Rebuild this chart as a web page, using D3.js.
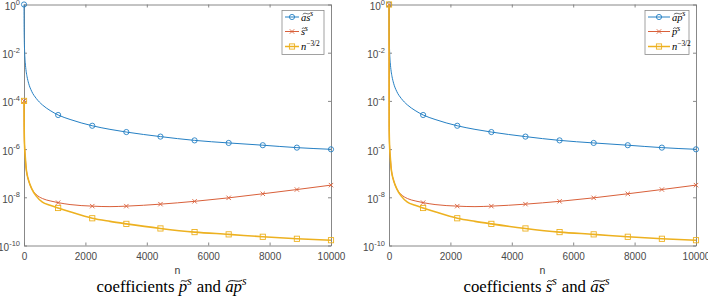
<!DOCTYPE html>
<html>
<head>
<meta charset="utf-8">
<script src="https://cdn.jsdelivr.net/npm/d3@7"></script>
<style>
body { margin: 0; background: #fff; }
svg { display: block; }
.tick text { font-family: "Liberation Sans", Arial, sans-serif; fill: #4a4a4a; }
</style>
</head>
<body>
<svg id="chart" width="708" height="297"></svg>
<script>
// sample points along n (markers sit on 1, 1112, 2223, ... 10000)
var nVals = [1, 5, 10, 20, 40, 70, 100, 150, 250, 400, 600, 850, 1112, 1500, 2223, 2800, 3334, 4445, 5556, 6667, 7778, 8889, 10000];
var markerN = [1, 1112, 2223, 3334, 4445, 5556, 6667, 7778, 8889, 10000];
var xTicks = [0, 2000, 4000, 6000, 8000, 10000];
var yTicks = [1, 1e-2, 1e-4, 1e-6, 1e-8, 1e-10];

// left panel
var asTilde = [1, 8.9e-2, 3.2e-2, 1.12e-2, 4e-3, 1.7e-3, 1e-3, 5.4e-4, 2.5e-4, 1.26e-4, 6.8e-5, 4e-5, 2.6e-5, 1.7e-5, 9.3e-6, 6.6e-6, 5.1e-6, 3.3e-6, 2.3e-6, 1.8e-6, 1.45e-6, 1.15e-6, 9.8e-7];
var sTilde = [1e-4, 1e-5, 3.2e-6, 1.26e-6, 5e-7, 1.6e-7, 8.9e-8, 5e-8, 2.3e-8, 1.3e-8, 8.9e-9, 7.1e-9, 6e-9, 5e-9, 4.3e-9, 4.1e-9, 4.3e-9, 5.2e-9, 6.8e-9, 9.5e-9, 1.4e-8, 2.1e-8, 3.2e-8];
var nPowLeft = [1e-4, 1e-5, 3.2e-6, 1.26e-6, 5e-7, 1.6e-7, 8.9e-8, 5e-8, 2.3e-8, 1.12e-8, 6.3e-9, 4.7e-9, 3.6e-9, 2.5e-9, 1.35e-9, 1e-9, 7.9e-10, 5.1e-10, 3.6e-10, 2.9e-10, 2.3e-10, 1.9e-10, 1.66e-10];

// right panel
var apTilde = [1, 8.9e-2, 3.2e-2, 1.12e-2, 4e-3, 1.7e-3, 1e-3, 5.4e-4, 2.5e-4, 1.26e-4, 6.8e-5, 4e-5, 2.6e-5, 1.7e-5, 9.3e-6, 6.6e-6, 5.1e-6, 3.3e-6, 2.3e-6, 1.8e-6, 1.45e-6, 1.15e-6, 9.8e-7];
var pTilde = [1, 1e-5, 3.2e-6, 1.26e-6, 5e-7, 1.6e-7, 8.9e-8, 5e-8, 2.3e-8, 1.3e-8, 8.9e-9, 7.1e-9, 6e-9, 5e-9, 4.3e-9, 4.1e-9, 4.3e-9, 5.2e-9, 6.8e-9, 9.5e-9, 1.4e-8, 2.1e-8, 3.2e-8];
var nPowRight = [1, 1e-5, 3.2e-6, 1.26e-6, 5e-7, 1.6e-7, 8.9e-8, 5e-8, 2.3e-8, 1.12e-8, 6.3e-9, 4.7e-9, 3.6e-9, 2.5e-9, 1.35e-9, 1e-9, 7.9e-10, 5.1e-10, 3.6e-10, 2.9e-10, 2.3e-10, 1.9e-10, 1.66e-10];

var colors = ["#2580c4", "#d9603a", "#edb120"],
	mathFont = '"Liberation Serif", "DejaVu Serif", serif';

var svg = d3.select("#chart");

var panels = [
	{ x0: 24, series: [asTilde, sTilde, nPowLeft],
	  legend: [[{ t: "as", it: 1, tilde: 1 }, { t: "s", it: 1, sup: 1 }],
	           [{ t: "s", it: 1, tilde: 1 }, { t: "s", it: 1, sup: 1 }],
	           [{ t: "n", it: 1 }, { t: "\u22123/2", sup: 1 }]],
	  legBox: [258, 300], legLine: [261, 275],
	  caption: [{ t: "coefficients " }, { t: "p", it: 1, tilde: 1 }, { t: "s", it: 1, sup: 1 }, { t: " and " },
	            { t: "ap", it: 1, tilde: 1 }, { t: "s", it: 1, sup: 1 }] },
	{ x0: 389, series: [apTilde, pTilde, nPowRight],
	  legend: [[{ t: "ap", it: 1, tilde: 1 }, { t: "s", it: 1, sup: 1 }],
	           [{ t: "p", it: 1, tilde: 1 }, { t: "s", it: 1, sup: 1 }],
	           [{ t: "n", it: 1 }, { t: "\u22123/2", sup: 1 }]],
	  legBox: [256, 300], legLine: [259, 281],
	  caption: [{ t: "coefficients " }, { t: "s", it: 1, tilde: 1 }, { t: "s", it: 1, sup: 1 }, { t: " and " },
	            { t: "as", it: 1, tilde: 1 }, { t: "s", it: 1, sup: 1 }] }
];

var y = d3.scaleLog()
	.domain([1e-10, 1])
	.range([245.5, 4.5]);

function tildePath(x1, x2, yb) {
	var w = x2 - x1;
	return "M" + x1 + "," + (yb + 0.8) + "C" + (x1 + w * 0.35) + "," + (yb - 2.2) + " " +
		(x1 + w * 0.65) + "," + (yb + 2.2) + " " + x2 + "," + (yb - 0.8);
}

// lay out a small formula part by part, measuring each piece
function mathText(g, x, yBase, parts, size, anchor) {
	var grp = g.append("g").attr("font-family", mathFont).attr("fill", "#000");
	var cx = 0;
	parts.forEach(function(p) {
		var fs = p.sup ? size * 0.7 : size;
		var t = grp.append("text")
			.attr("x", cx)
			.attr("y", p.sup ? -size * 0.42 : 0)
			.attr("font-size", fs)
			.attr("font-style", p.it ? "italic" : "normal")
			.style("white-space", "pre")
			.text(p.t);
		var w = t.node().getComputedTextLength();
		if (p.tilde) {
			grp.append("path")
				.attr("d", tildePath(cx + w * 0.12 + size * 0.06, cx + w * 0.95 + size * 0.06, -size * 0.66))
				.attr("fill", "none")
				.attr("stroke", "#000")
				.attr("stroke-width", size * 0.055);
		}
		cx += w + (p.sup ? size * 0.05 : 0);
	});
	var shift = anchor == "middle" ? -cx / 2 : (anchor == "end" ? -cx : 0);
	grp.attr("transform", "translate(" + (x + shift) + "," + yBase + ")");
}

function marker(sel, k, color) {
	if (k == 0) {
		sel.append("circle").attr("r", 2.6);
	} else if (k == 1) {
		sel.append("path").attr("d", "M-2.2,-2.2L2.2,2.2M-2.2,2.2L2.2,-2.2");
	} else {
		sel.append("rect").attr("x", -2.6).attr("y", -2.6).attr("width", 5.2).attr("height", 5.2);
	}
	sel.selectAll("*").attr("fill", "none").attr("stroke", color).attr("stroke-width", 0.9);
}

panels.forEach(function(p) {
	var x = d3.scaleLinear()
		.domain([0, 10000])
		.range([p.x0, p.x0 + 307]);

	var g = svg.append("g");

	// box axes, ticks pointing inward
	var bottom = g.append("g").attr("transform", "translate(0,245.5)")
		.call(d3.axisBottom(x).tickValues(xTicks).tickSizeInner(-3).tickSizeOuter(0).tickFormat(d3.format("d")));
	bottom.selectAll(".tick text").attr("y", 14.5).attr("dy", null).attr("font-size", 10);
	g.append("g").attr("transform", "translate(0,4.5)")
		.call(d3.axisTop(x).tickValues(xTicks).tickSizeInner(-3).tickSizeOuter(0).tickFormat(""));

	var left = g.append("g").attr("transform", "translate(" + p.x0 + ",0)")
		.call(d3.axisLeft(y).tickValues(yTicks).tickSizeInner(-3).tickSizeOuter(0).tickFormat(""));
	left.selectAll(".tick text")
		.attr("x", -4).attr("dy", null).attr("y", 0)
		.each(function(d) {
			var t = d3.select(this);
			t.append("tspan").attr("dy", 5).attr("font-size", 10).text("10");
			t.append("tspan").attr("dy", -5.5).attr("font-size", 7.5).text(Math.round(Math.log10(d)));
		});
	g.append("g").attr("transform", "translate(" + (p.x0 + 307) + ",0)")
		.call(d3.axisRight(y).tickValues(yTicks).tickSizeInner(-3).tickSizeOuter(0).tickFormat(""));

	g.selectAll(".domain, .tick line").attr("stroke", "#7a7a7a").attr("stroke-width", 0.9);

	g.append("text")
		.attr("x", p.x0 + 153.5)
		.attr("y", 274)
		.attr("text-anchor", "middle")
		.attr("font-family", '"Liberation Sans", Arial, sans-serif')
		.attr("font-size", 10.5)
		.attr("fill", "#3a3a3a")
		.text("n");

	var line = d3.line()
		.x(function(d) { return x(d.n); })
		.y(function(d) { return y(d.v); })
		.curve(d3.curveMonotoneX);

	p.series.forEach(function(vals, k) {
		var pts = nVals.map(function(n, i) { return { n: n, v: vals[i] }; });
		g.append("path")
			.datum(pts)
			.attr("d", line)
			.attr("fill", "none")
			.attr("stroke", colors[k])
			.attr("stroke-width", k == 2 ? 1.6 : 1);

		g.selectAll(".mk" + k)
			.data(pts.filter(function(d) { return markerN.indexOf(d.n) >= 0; }))
		  .enter().append("g")
			.attr("transform", function(d) { return "translate(" + x(d.n) + "," + y(d.v) + ")"; })
			.each(function() { marker(d3.select(this), k, colors[k]); });
	});

	// legend
	var lx0 = p.x0 + p.legBox[0], lx1 = p.x0 + p.legBox[1];
	g.append("rect")
		.attr("x", lx0).attr("y", 10.5)
		.attr("width", lx1 - lx0).attr("height", 44)
		.attr("fill", "#fff").attr("stroke", "#8a8a8a").attr("stroke-width", 0.8);
	var rowY = [17, 31.5, 46.5];
	p.legend.forEach(function(parts, k) {
		var a = p.x0 + p.legLine[0], b = p.x0 + p.legLine[1];
		g.append("line")
			.attr("x1", a).attr("x2", b)
			.attr("y1", rowY[k]).attr("y2", rowY[k])
			.attr("stroke", colors[k]).attr("stroke-width", k == 2 ? 1.5 : 1);
		marker(g.append("g").attr("transform", "translate(" + ((a + b) / 2) + "," + rowY[k] + ")"), k, colors[k]);
		mathText(g, b + 2, rowY[k] + 3.5, parts, 10.5, "start");
	});

	mathText(g, p.x0 + 148, 292, p.caption, 16.8, "middle");
});
</script>
</body>
</html>
